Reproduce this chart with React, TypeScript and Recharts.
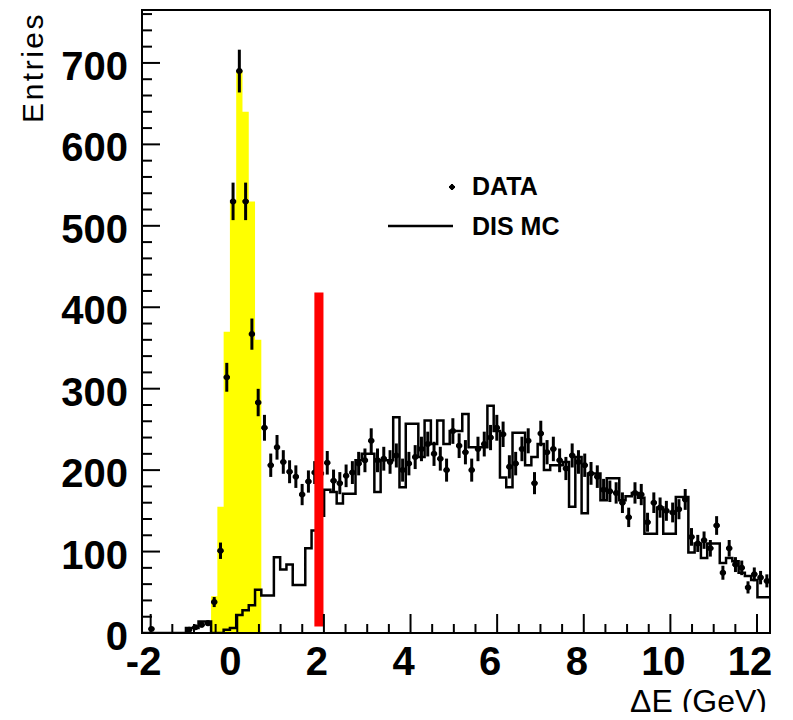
import React from 'react';
import {
  ComposedChart,
  XAxis,
  YAxis,
  Line,
  Area,
  Scatter,
  ErrorBar,
  ReferenceArea,
  Legend,
} from 'recharts';

// histogram binning: 100 bins from -2.2 to 12.3 GeV
const BIN_LO = -2.2;
const BIN_W = 0.145;

// measured events per bin
const dataCounts = [
  0, 5, 0, 0, 0, 0, 0, 4, 7, 10,
  12, 38, 101, 314, 530, 690, 530, 367, 283, 252,
  206, 228, 210, 198, 192, 170, 186, 197, 196, 209,
  187, 184, 193, 197, 208, 212, 236, 212, 214, 210,
  218, 200, 208, 216, 226, 232, 220, 214, 200, 248,
  230, 222, 200, 226, 232, 240, 252, 244, 204, 208,
  226, 236, 184, 245, 222, 226, 212, 202, 218, 210,
  206, 196, 192, 176, 174, 172, 160, 142, 172, 170,
  136, 160, 154, 150, 148, 152, 164, 118, 110, 114,
  104, 132, 74, 104, 84, 80, 56, 72, 68, 64,
];

// DIS Monte Carlo per bin
const mcCounts = [
  0, 0, 0, 0, 0, 0, 0, 6, 6, 14,
  14, 0, 0, 4, 6, 22, 28, 34, 53, 46,
  46, 93, 78, 84, 59, 59, 104, 126, 144, 176,
  173, 159, 171, 171, 212, 220, 220, 173, 212, 212,
  265, 179, 257, 257, 216, 261, 232, 261, 232, 248,
  248, 269, 228, 228, 228, 279, 248, 191, 179, 246,
  246, 206, 216, 232, 200, 206, 206, 210, 155, 216,
  147, 196, 196, 163, 190, 190, 163, 168, 172, 166,
  122, 122, 154, 122, 122, 167, 167, 99, 110, 92,
  110, 110, 86, 92, 88, 74, 70, 65, 44, 44,
];

// yellow signal window (first bin index + counts)
const peakFirstBin = 11;
const peakCounts = [45, 155, 370, 530, 690, 640, 530, 360];

// red cut marker
const cutLow = 1.78;
const cutHigh = 1.99;
const cutBottom = 8;
const cutTop = 418;

const xTicks = [
  -2, -1.5, -1, -0.5, 0, 0.5, 1, 1.5, 2, 2.5, 3, 3.5, 4, 4.5, 5, 5.5, 6, 6.5,
  7, 7.5, 8, 8.5, 9, 9.5, 10, 10.5, 11, 11.5, 12,
];
const yTicks = [
  0, 20, 40, 60, 80, 100, 120, 140, 160, 180, 200, 220, 240, 260, 280, 300,
  320, 340, 360, 380, 400, 420, 440, 460, 480, 500, 520, 540, 560, 580, 600,
  620, 640, 660, 680, 700, 720, 740, 760,
];

const X_MAX = 12.3;
const Y_MAX = 765;

const FONT = '"Liberation Sans", Arial, Helvetica, sans-serif';

const points = dataCounts
  .map((c, i) => ({
    x: BIN_LO + BIN_W * (i + 0.5),
    y: c,
    ex: BIN_W / 2,
    ey: Math.sqrt(c),
  }))
  .filter((p) => p.y > 0);

const mcSteps = mcCounts.map((c, i) => ({ x: BIN_LO + BIN_W * i, y: c }));
mcSteps.push({ x: BIN_LO + BIN_W * mcCounts.length, y: mcCounts[mcCounts.length - 1] });

const peakSteps = peakCounts.map((c, i) => ({ x: BIN_LO + BIN_W * (peakFirstBin + i), y: c }));
peakSteps.push({
  x: BIN_LO + BIN_W * (peakFirstBin + peakCounts.length),
  y: peakCounts[peakCounts.length - 1],
});

const isMultiple = (v: number, step: number) => Math.abs(v / step - Math.round(v / step)) < 1e-6;

function XTick(props: any) {
  const { x, y, payload } = props;
  const major = isMultiple(payload.value, 2);
  return (
    <g>
      <line x1={x} y1={y} x2={x} y2={y - (major ? 19 : 9)} stroke="#000" strokeWidth={2} />
      {major && (
        <text x={x - 7} y={y + 42} textAnchor="middle" fontFamily={FONT} fontWeight="bold" fontSize={40} fill="#000">
          {payload.value}
        </text>
      )}
    </g>
  );
}

function YTick(props: any) {
  const { x, y, payload } = props;
  const major = isMultiple(payload.value, 100);
  return (
    <g>
      <line x1={x} y1={y} x2={x + (major ? 18 : 10)} y2={y} stroke="#000" strokeWidth={2} />
      {major && (
        <text x={x - 14} y={y + 17} textAnchor="end" fontFamily={FONT} fontWeight="bold" fontSize={40} fill="#000">
          {payload.value}
        </text>
      )}
    </g>
  );
}

function renderLegend() {
  return (
    <svg width={200} height={90}>
      <line x1={63} y1={22} x2={69} y2={22} stroke="#000" strokeWidth={2} />
      <line x1={66} y1={19} x2={66} y2={25} stroke="#000" strokeWidth={2} />
      <circle cx={66} cy={22} r={2.5} fill="#000" />
      <text x={86} y={30} fontFamily={FONT} fontWeight="bold" fontSize={25} fill="#000">DATA</text>
      <line x1={2} y1={61} x2={67} y2={61} stroke="#000" strokeWidth={2.5} />
      <text x={86} y={70} fontFamily={FONT} fontWeight="bold" fontSize={25} fill="#000">DIS MC</text>
    </svg>
  );
}

export default function App() {
  return (
    <div style={{ margin: -8, width: 793, height: 720, background: '#fff' }}>
      <ComposedChart width={793} height={720} margin={{ top: 10, right: 23, left: 0, bottom: 27 }}>
        <XAxis
          dataKey="x"
          type="number"
          domain={[BIN_LO, X_MAX]}
          allowDataOverflow
          ticks={xTicks}
          interval={0}
          tickSize={0}
          tickMargin={0}
          tick={<XTick />}
          height={60}
          axisLine={{ stroke: '#000', strokeWidth: 2 }}
          label={{
            value: 'ΔE (GeV)',
            content: (p: any) => (
              <text
                x={p.viewBox.x + p.viewBox.width - 3}
                y={p.viewBox.y + 79}
                textAnchor="end"
                fontFamily={FONT}
                fontSize={32}
                fill="#000"
              >
                ΔE (GeV)
              </text>
            ),
          }}
        />
        <YAxis
          type="number"
          domain={[0, Y_MAX]}
          allowDataOverflow
          ticks={yTicks}
          interval={0}
          tickSize={0}
          tickMargin={0}
          tick={<YTick />}
          width={142}
          axisLine={{ stroke: '#000', strokeWidth: 2 }}
          label={{
            value: 'Entries',
            content: () => (
              <text
                x={43}
                y={12}
                transform="rotate(-90, 43, 12)"
                textAnchor="end"
                fontFamily={FONT}
                fontSize={30}
                letterSpacing={2.5}
                fill="#000"
              >
                Entries
              </text>
            ),
          }}
        />
        <Area
          data={peakSteps}
          dataKey="y"
          type="stepAfter"
          fill="#ffff00"
          fillOpacity={1}
          stroke="none"
          isAnimationActive={false}
          legendType="none"
        />
        <Line
          data={mcSteps}
          dataKey="y"
          name="DIS MC"
          type="stepAfter"
          stroke="#000"
          strokeWidth={2.5}
          dot={false}
          activeDot={false}
          isAnimationActive={false}
        />
        <Scatter
          data={points}
          dataKey="y"
          name="DATA"
          fill="#000"
          isAnimationActive={false}
          shape={(p: any) => <circle cx={p.cx} cy={p.cy} r={3} fill="#000" />}
        >
          <ErrorBar dataKey="ex" direction="x" width={0} stroke="#000" strokeWidth={2.5} isAnimationActive={false} />
          <ErrorBar dataKey="ey" direction="y" width={0} stroke="#000" strokeWidth={3} isAnimationActive={false} />
        </Scatter>
        <ReferenceArea
          x1={cutLow}
          x2={cutHigh}
          y1={cutBottom}
          y2={cutTop}
          fill="#ff0000"
          fillOpacity={1}
          stroke="none"
          zIndex={1000}
        />
        <ReferenceArea
          x1={BIN_LO}
          x2={X_MAX}
          y1={0}
          y2={Y_MAX}
          fill="none"
          stroke="#000"
          strokeWidth={2}
          zIndex={1000}
        />
        <Legend
          layout="vertical"
          align="center"
          verticalAlign="middle"
          content={renderLegend}
          wrapperStyle={{ left: 386, top: 165, width: 200, height: 90 }}
        />
      </ComposedChart>
    </div>
  );
}
